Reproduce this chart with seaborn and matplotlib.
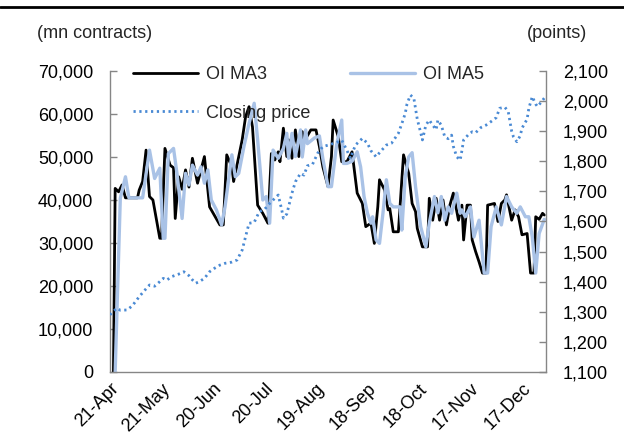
import pandas as pd
import numpy as np
import matplotlib
matplotlib.use("Agg")
import matplotlib.pyplot as plt
import matplotlib.dates as mdates
import matplotlib.ticker as mticker
from matplotlib.lines import Line2D
import seaborn as sns

sns.set_style("white")
plt.rcParams["font.family"] = ["Liberation Sans", "DejaVu Sans"]

start = pd.Timestamp("2020-04-21")

# OI MA3 (days after 21-Apr, contracts)
ma3_days = [2, 3, 5, 7, 9, 16, 17, 19, 21, 23, 25, 29, 30, 32, 35, 37, 38, 40, 42, 44,
            46, 48, 51, 55, 58, 60, 64, 66, 68, 71, 72, 75, 77, 79, 81, 83, 86, 89, 92, 94,
            96, 98, 99, 101, 103, 104, 106, 108, 110, 112, 113, 117, 120, 122, 124, 127, 129, 130, 133, 135,
            138, 141, 142, 144, 147, 149, 152, 154, 156, 157, 160, 162, 163, 165, 168, 170, 171, 174, 176, 178,
            179, 182, 185, 186, 188, 190, 192, 194, 196, 198, 200, 203, 205, 206, 208, 210, 211, 213, 215, 217,
            219, 220, 224, 226, 228, 230, 231, 234, 236, 238, 240, 243, 245, 247, 248, 250, 252, 253]
ma3_vals = [0, 42700, 41900, 43500, 40500, 40500, 42300, 44300, 51600, 40800, 40000, 31100, 31100, 52000, 48100, 47500, 35700, 45400, 42500, 47000,
            43000, 49700, 43900, 50100, 38400, 37000, 34200, 34200, 50500, 47700, 44300, 50100, 54000, 59400, 61700, 57000, 38800, 36900, 34600, 50800,
            49300, 51200, 48900, 56700, 50100, 54000, 49700, 56300, 50100, 55900, 53600, 56300, 56300, 52400, 47700, 43100, 50100, 58600, 54700, 48900,
            48900, 51200, 48000, 41600, 39200, 33800, 34600, 29900, 38400, 44700, 42300, 37700, 38000, 32600, 32600, 44700, 50500, 46200, 39200, 37300,
            33400, 29100, 29100, 40400, 35300, 40400, 35300, 40000, 34200, 38800, 41600, 35300, 38800, 30700, 38800, 38800, 30700, 28000, 25600, 23000,
            23000, 38800, 39200, 35000, 39200, 40000, 41200, 35300, 37700, 36100, 31900, 32200, 23000, 23000, 36100, 35500, 36900, 36500]

# OI MA5
ma5_days = [3, 6, 9, 11, 19, 23, 26, 29, 31, 32, 34, 37, 39, 42, 44, 46, 48, 51, 53, 55,
            57, 59, 62, 65, 67, 71, 73, 75, 78, 81, 84, 86, 89, 91, 93, 95, 98, 101, 103, 104,
            106, 108, 111, 112, 114, 115, 119, 122, 124, 127, 129, 132, 135, 136, 138, 141, 144, 146, 148, 150,
            152, 153, 155, 157, 159, 161, 163, 165, 169, 170, 172, 174, 176, 178, 181, 184, 186, 189, 191, 193,
            195, 197, 199, 202, 204, 205, 207, 210, 212, 215, 218, 220, 222, 225, 228, 231, 234, 237, 239, 242,
            244, 246, 248, 250, 253]
ma5_vals = [0, 40400, 45400, 40500, 40500, 51600, 45000, 47400, 31100, 31100, 50800, 52000, 46200, 35700, 46200, 43500, 48100, 45800, 47700, 43900,
            47000, 40000, 37700, 34200, 38400, 50500, 45400, 46200, 52400, 57800, 62500, 54000, 40000, 40800, 34600, 51600, 49700, 52000, 55500, 49700,
            55500, 50100, 56300, 50000, 56300, 53100, 54400, 54900, 49600, 43100, 43100, 52800, 58600, 48500, 48500, 49000, 51200, 47700, 40800, 36900,
            34600, 36100, 30700, 29900, 36900, 44700, 39200, 38400, 38400, 33000, 45400, 50000, 51000, 43100, 33800, 29100, 34600, 40800, 37000, 40800,
            35300, 38400, 36900, 41600, 36900, 37700, 36100, 38400, 31400, 35300, 23000, 23000, 33800, 38400, 34200, 40800, 38400, 36900, 38400, 36100,
            36100, 31400, 23000, 32200, 35500]

# Closing price (points, right axis)
px_days = [0, 4, 6, 10, 13, 17, 20, 23, 26, 28, 31, 33, 36, 40, 43, 46, 48, 50, 52, 55,
           58, 61, 64, 67, 71, 74, 77, 79, 81, 84, 87, 90, 93, 96, 98, 100, 101, 103, 106, 108,
           111, 113, 115, 118, 121, 124, 128, 133, 135, 138, 140, 143, 147, 150, 152, 155, 158, 161, 164, 168,
           170, 172, 173, 175, 177, 179, 181, 182, 184, 186, 188, 190, 191, 193, 195, 197, 199, 200, 202, 204,
           205, 206, 209, 211, 213, 216, 219, 222, 225, 227, 230, 232, 234, 235, 237, 239, 240, 243, 244, 246,
           248, 249, 251, 253]
px_vals = [1290, 1312, 1305, 1306, 1320, 1350, 1370, 1389, 1385, 1395, 1411, 1405, 1417, 1425, 1433, 1420, 1406, 1395, 1400, 1411,
           1433, 1445, 1455, 1461, 1465, 1472, 1505, 1550, 1594, 1597, 1633, 1640, 1660, 1677, 1688, 1640, 1611, 1625, 1694, 1732,
           1760, 1754, 1785, 1790, 1827, 1849, 1855, 1865, 1870, 1837, 1810, 1854, 1876, 1860, 1835, 1815, 1835, 1854, 1860, 1893,
           1925, 1959, 1990, 2020, 2010, 1940, 1895, 1871, 1920, 1937, 1920, 1905, 1937, 1920, 1882, 1875, 1887, 1850, 1815, 1804,
           1835, 1871, 1890, 1898, 1895, 1912, 1920, 1932, 1945, 1976, 1980, 1965, 1900, 1882, 1865, 1885, 1910, 1940, 1976, 2015,
           1990, 1982, 1995, 2010]

tick_labels = ["21-Apr", "21-May", "20-Jun", "20-Jul", "19-Aug", "18-Sep", "18-Oct", "17-Nov", "17-Dec"]


def to_dates(days):
    return start + pd.to_timedelta(days, unit="D")


ma3 = pd.DataFrame({"date": to_dates(ma3_days), "oi": ma3_vals})
ma5 = pd.DataFrame({"date": to_dates(ma5_days), "oi": ma5_vals})
px = pd.DataFrame({"date": to_dates(px_days), "close": px_vals})

FS = 13
spine_c = "#868686"

fig = plt.figure(figsize=(6.24, 4.46), dpi=100)
ax = fig.add_axes([0.1763, 0.166, 0.6987, 0.6748])
ax2 = ax.twinx()

sns.lineplot(data=ma3, x="date", y="oi", ax=ax, color="black", lw=2.0, label="OI MA3", legend=False)
sns.lineplot(data=ma5, x="date", y="oi", ax=ax, color="#A9C2E6", lw=2.4, label="OI MA5", legend=False)
sns.lineplot(data=px, x="date", y="close", ax=ax2, color="#4A8AD4", lw=2.0,
             linestyle=(0, (0.8, 1.3)), label="Closing price", legend=False)

ax.set_xlim(start, start + pd.Timedelta(days=254))
ax.set_ylim(0, 70000)
ax2.set_ylim(1100, 2100)
ax.set_yticks(np.arange(0, 70001, 10000))
ax2.set_yticks(np.arange(1100, 2101, 100))
ax.yaxis.set_major_formatter(mticker.FuncFormatter(lambda v, p: f"{v:,.0f}"))
ax2.yaxis.set_major_formatter(mticker.FuncFormatter(lambda v, p: f"{v:,.0f}"))

ticks = pd.date_range(start, periods=len(tick_labels), freq="30D")
ax.set_xticks(ticks)
ax.set_xticklabels(tick_labels, rotation=45, ha="right", rotation_mode="anchor")

for a in (ax, ax2):
    a.set_xlabel("")
    a.set_ylabel("")
    a.spines["top"].set_visible(False)
    for s in ("left", "right", "bottom"):
        a.spines[s].set_color(spine_c)
        a.spines[s].set_linewidth(1.0)
    a.tick_params(direction="in", length=5, width=1, color=spine_c, labelsize=FS, labelcolor="black")
ax.tick_params(axis="y", pad=12)
ax2.tick_params(axis="y", pad=12)
ax.tick_params(axis="x", pad=6)
ax.spines["right"].set_visible(False)
ax2.spines["left"].set_visible(False)
ax2.spines["bottom"].set_visible(False)

h1, l1 = ax.get_legend_handles_labels()
h2, l2 = ax2.get_legend_handles_labels()
handles = [h1[0], h2[0], h1[1]]
labels = [l1[0], l2[0], l1[1]]
ax2.legend(handles, labels, ncol=2, loc="upper left", bbox_to_anchor=(0.053, 1.017),
           frameon=False, fontsize=FS, handlelength=3.6, handletextpad=0.45,
           labelspacing=1.2, columnspacing=2.2, borderpad=0, borderaxespad=0)

fig.text(0.059, 0.926, "(mn contracts)", fontsize=FS, va="center", ha="left")
fig.text(0.845, 0.926, "(points)", fontsize=FS, va="center", ha="left")
fig.add_artist(Line2D([0, 1], [0.984, 0.984], color="black", lw=2, transform=fig.transFigure))

fig.savefig("out.png", dpi=100)
